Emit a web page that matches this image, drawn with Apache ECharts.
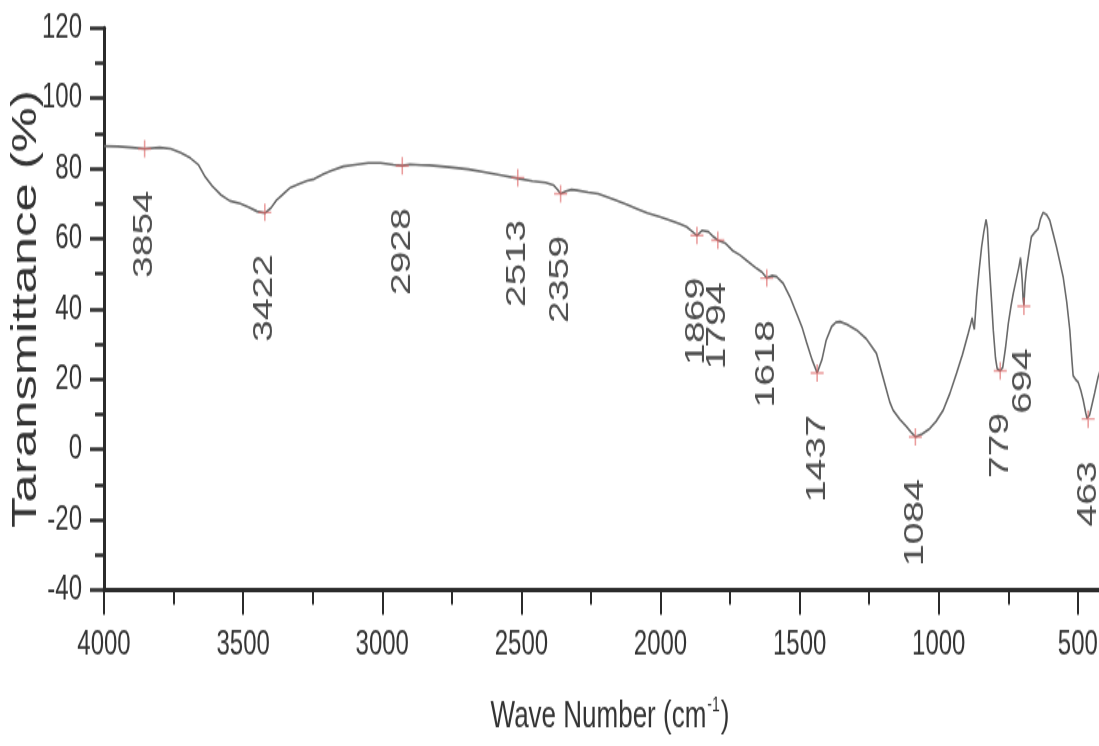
<!DOCTYPE html>
<html>
<head>
<meta charset="utf-8">
<title>FTIR spectrum</title>
<script src="https://cdn.jsdelivr.net/npm/echarts@6/dist/echarts.min.js"></script>
<style>
  html { overflow: hidden; }
  html, body { margin: 0; padding: 0; background: #fff; }
  body { width: 1099px; height: 746px; }
  /* the source figure is stretched in height, so draw it 514px tall and stretch it */
  #main { width: 1099px; height: 514px; transform: scaleY(1.4514); transform-origin: 0 0; }
</style>
</head>
<body>
<div id="main"></div>
<script>
// spectrum: wave number (cm-1) and transmittance (%)
const waveNumbers = [
  4000, 3950, 3900, 3854, 3800, 3760, 3724, 3690, 3660, 3636,
  3611, 3580, 3548, 3510, 3480, 3450, 3422, 3400, 3380, 3359,
  3330, 3300, 3270, 3245, 3210, 3182, 3140, 3107, 3050, 3006,
  2960, 2928, 2900, 2860, 2829, 2760, 2690, 2620, 2564, 2513,
  2460, 2413, 2385, 2370, 2359, 2340, 2320, 2300, 2260, 2224,
  2170, 2123, 2080, 2047, 2000, 1966, 1930, 1906, 1885, 1869,
  1850, 1828, 1810, 1794, 1768, 1740, 1715, 1690, 1655, 1635,
  1618, 1600, 1583, 1559, 1535, 1511, 1490, 1475, 1455, 1437,
  1420, 1405, 1385, 1370, 1355, 1330, 1295, 1260, 1224, 1200,
  1176, 1164, 1140, 1116, 1100, 1084, 1060, 1032, 1010, 984,
  960, 936, 915, 894, 886, 880, 876, 872, 864, 855,
  846, 838, 830, 825, 818, 810, 804, 796, 790, 779,
  770, 760, 750, 740, 732, 720, 712, 706, 700, 697,
  694, 690, 685, 676, 667, 655, 643, 635, 625, 612,
  601, 590, 577, 565, 553, 540, 529, 521, 517, 507,
  499, 490, 481, 472, 467, 463, 458, 451, 440, 427,
  420
]
const transmittance = [
  86.4, 86.3, 86.0, 85.6, 86.0, 85.6, 84.5, 83.0, 81.0, 77.6,
  75.0, 72.5, 70.8, 70.0, 69.0, 67.8, 67.3, 68.8, 71.0, 72.5,
  74.6, 75.6, 76.5, 77.0, 78.5, 79.4, 80.6, 81.0, 81.6, 81.6,
  81.1, 80.8, 81.2, 81.0, 80.9, 80.4, 79.8, 78.8, 78.0, 77.2,
  76.4, 76.0, 75.3, 74.0, 72.8, 73.5, 74.0, 73.8, 73.2, 72.8,
  71.3, 69.8, 68.4, 67.3, 66.2, 65.3, 64.2, 63.4, 62.0, 60.9,
  62.4, 62.0, 60.6, 59.6, 58.8, 56.6, 55.4, 53.8, 51.6, 50.5,
  48.8, 49.5, 49.2, 47.3, 43.5, 38.8, 34.5, 30.5, 25.5, 21.8,
  25.5, 31.0, 35.0, 36.2, 36.4, 35.6, 34.0, 31.5, 27.4, 20.5,
  13.5, 11.2, 8.6, 6.5, 5.0, 3.6, 4.4, 6.0, 8.0, 11.2,
  16.0, 21.7, 27.0, 33.1, 35.5, 37.5, 35.5, 34.2, 43.5, 51.0,
  57.7, 62.0, 65.5, 63.0, 52.0, 42.0, 34.0, 26.0, 23.0, 22.4,
  23.4, 29.0, 35.9, 41.0, 44.5, 49.0, 52.0, 54.6, 48.0, 43.0,
  41.0, 47.0, 51.1, 56.0, 60.6, 61.8, 62.8, 65.5, 67.5, 66.8,
  65.3, 61.8, 57.7, 53.5, 49.2, 42.0, 34.0, 25.0, 21.0, 19.8,
  19.2, 17.0, 14.1, 10.5, 8.9, 8.5, 9.8, 12.2, 16.0, 20.7,
  22.5
]
// marked bands
const peakWaves = [3854, 3422, 2928, 2513, 2359, 1869, 1794, 1618, 1437, 1084, 779, 694, 463]
const peakValues = [85.6, 67.5, 80.8, 77.4, 72.8, 60.9, 59.6, 48.8, 21.8, 3.6, 22.4, 40.8, 8.7]

const fontFamily = '"Liberation Sans", Arial, sans-serif'

const chartInstance = echarts.init(document.getElementById('main'))

const option = {
  backgroundColor: '#fff',
  animation: false,
  grid: {
    left: 104,
    right: -118, // the axis runs on past the cut edge of the picture
    top: 19.3,
    bottom: 107.5,
    outerBoundsMode: 'none'
  },
  xAxis: {
    type: 'value',
    inverse: true,
    min: 0,
    max: 4000,
    interval: 500,
    axisLine: { onZero: false, lineStyle: { color: '#2b2b2b', width: 3 } },
    axisTick: { length: 17, lineStyle: { color: '#2b2b2b', width: 2 } },
    minorTick: { show: true, splitNumber: 2, length: 10, lineStyle: { color: '#2b2b2b', width: 2 } },
    axisLabel: {
      color: '#333',
      fontSize: 24,
      fontFamily: fontFamily,
      margin: 26,
      formatter: v => String(v)
    },
    splitLine: { show: false }
  },
  yAxis: {
    type: 'value',
    min: -40,
    max: 120,
    interval: 20,
    name: 'Taransmittance (%)',
    nameLocation: 'middle',
    nameGap: 60,
    nameMoveOverlap: false,
    nameTextStyle: { color: '#333', fontSize: 35, fontFamily: fontFamily },
    axisLine: { show: true, onZero: false, lineStyle: { color: '#2b2b2b', width: 3 } },
    axisTick: { show: true, length: 14, lineStyle: { color: '#2b2b2b', width: 2.5 } },
    minorTick: { show: true, splitNumber: 2, length: 9, lineStyle: { color: '#2b2b2b', width: 2.5 } },
    axisLabel: { color: '#333', fontSize: 24, fontFamily: fontFamily, margin: 22, formatter: v => String(v) },
    splitLine: { show: false }
  },
  graphic: [{
    type: 'text',
    x: 610,
    y: 494,
    style: {
      text: 'Wave Number (cm{sup|-1})',
      fill: '#333',
      fontSize: 26,
      fontFamily: fontFamily,
      align: 'center',
      verticalAlign: 'middle',
      rich: {
        sup: { fontSize: 14, fontFamily: fontFamily, fill: '#333', padding: [0, 1, 16, 1] }
      }
    }
  }],
  series: [
    {
      type: 'line',
      data: waveNumbers.map((w, i) => [w, transmittance[i]]),
      showSymbol: false,
      smooth: false,
      lineStyle: { color: '#6a6a6a', width: 1.6 },
      z: 2
    },
    {
      type: 'scatter',
      data: peakWaves.map((w, i) => [w, peakValues[i]]),
      symbol: 'path://M4.4,0h1.2v10h-1.2zM0,4.4h10v1.2h-10z',
      symbolSize: [13, 12],
      itemStyle: { color: 'rgba(222,100,100,0.8)' },
      label: {
        show: true,
        position: 'bottom',
        distance: 23,
        rotate: 90,
        align: 'right',
        verticalAlign: 'middle',
        color: '#222',
        fontSize: 27,
        fontFamily: fontFamily,
        formatter: p => String(p.value[0])
      },
      z: 3
    }
  ]
}

chartInstance.setOption(option)
</script>
</body>
</html>
